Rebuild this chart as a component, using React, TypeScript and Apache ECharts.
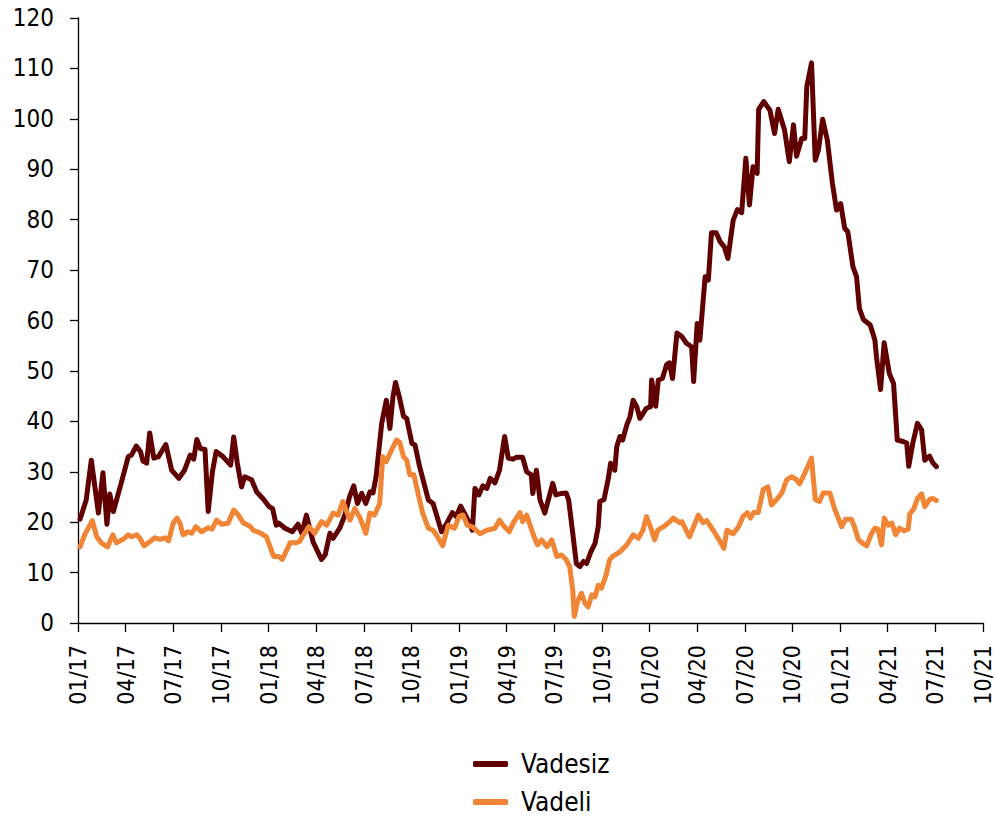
import React, { useEffect, useRef } from "react";
import * as echarts from "echarts";

const xTickStart = 0; // months since 2017-01
const xTickEnd = 57;
const xTickStep = 3;
const yMin = 0;
const yMax = 120;
const yStep = 10;

const seriesNames = ["Vadesiz", "Vadeli"];

const vadesizDates = [
  "2017-01-05","2017-01-17","2017-01-27","2017-02-09","2017-02-17","2017-02-24","2017-03-01","2017-03-08","2017-03-24",
  "2017-04-06","2017-04-12","2017-04-21","2017-04-29","2017-05-04","2017-05-11","2017-05-17","2017-05-25","2017-06-03",
  "2017-06-17","2017-06-28","2017-07-12","2017-07-23","2017-08-03","2017-08-10","2017-08-16","2017-08-23","2017-09-01",
  "2017-09-07","2017-09-15","2017-09-22","2017-10-05","2017-10-20","2017-10-26","2017-11-02","2017-11-10","2017-11-16",
  "2017-11-29","2017-12-09","2017-12-21","2018-01-02","2018-01-09","2018-01-16","2018-01-21","2018-02-02","2018-02-15",
  "2018-02-25","2018-03-04","2018-03-13","2018-03-26","2018-04-11","2018-04-18","2018-04-27","2018-05-03","2018-05-16",
  "2018-05-26","2018-06-04","2018-06-12","2018-06-19","2018-06-27","2018-07-05","2018-07-13","2018-07-19","2018-07-25",
  "2018-08-05","2018-08-14","2018-08-21","2018-08-27","2018-09-01","2018-09-08","2018-09-16","2018-09-22","2018-10-02",
  "2018-10-08","2018-10-17","2018-11-03","2018-11-12","2018-11-28","2018-12-08","2018-12-19","2018-12-27","2019-01-04",
  "2019-01-15","2019-01-27","2019-02-01","2019-02-08","2019-02-15","2019-02-22","2019-02-28","2019-03-09","2019-03-18",
  "2019-03-28","2019-04-04","2019-04-13","2019-04-20","2019-05-01","2019-05-09","2019-05-18","2019-05-21","2019-05-28",
  "2019-06-04","2019-06-13","2019-06-28","2019-07-04","2019-07-15","2019-07-24","2019-07-29","2019-08-06","2019-08-13",
  "2019-08-20","2019-08-27","2019-09-02","2019-09-10","2019-09-18","2019-09-24","2019-09-27","2019-10-05","2019-10-13",
  "2019-10-18","2019-10-26","2019-10-30","2019-11-05","2019-11-10","2019-11-18","2019-11-24","2019-11-30","2019-12-07",
  "2019-12-13","2019-12-26","2020-01-03","2020-01-05","2020-01-13","2020-01-18","2020-01-26","2020-02-03","2020-02-08",
  "2020-02-14","2020-02-22","2020-03-02","2020-03-11","2020-03-21","2020-03-25","2020-04-01","2020-04-06","2020-04-16",
  "2020-04-22","2020-04-28","2020-05-07","2020-05-15","2020-05-23","2020-05-30","2020-06-09","2020-06-17","2020-06-25",
  "2020-07-03","2020-07-10","2020-07-17","2020-07-25","2020-07-28","2020-08-07","2020-08-19","2020-08-28","2020-09-04",
  "2020-09-16","2020-09-25","2020-10-03","2020-10-09","2020-10-19","2020-10-25","2020-10-29","2020-11-07","2020-11-14",
  "2020-11-20","2020-11-28","2020-12-07","2020-12-17","2020-12-25","2021-01-02","2021-01-10","2021-01-16","2021-01-26",
  "2021-02-02","2021-02-07","2021-02-14","2021-02-26","2021-03-01","2021-03-07","2021-03-10","2021-03-18","2021-03-25",
  "2021-04-04","2021-04-12","2021-04-19","2021-04-30","2021-05-07","2021-05-11","2021-05-19","2021-05-28","2021-06-05",
  "2021-06-11","2021-06-20","2021-06-26","2021-07-03"
];
const vadesizValues = [
  20.6, 24.4, 32.3, 21.8, 29.8, 19.6, 25.6, 22.1, 28,
  33, 33.3, 35.1, 34, 32.1, 31.7, 37.7, 32.7, 33,
  35.4, 30.3, 28.7, 30.3, 33.3, 32.5, 36.4, 34.6, 34.4,
  22.1, 30, 34, 33, 31.3, 36.9, 31.7, 27, 29,
  28.4, 26, 24.7, 23.1, 22.7, 19.4, 19.8, 18.8, 18.1,
  19.6, 17.8, 21.4, 16.1, 12.6, 13.5, 17.8, 16.8, 18.8,
  21.4, 25, 27.2, 23.7, 25.7, 23.7, 26, 25.8, 29,
  39.6, 44.2, 38.6, 44.9, 47.7, 44.9, 41, 40.6, 35.6,
  35.3, 31, 24.4, 23.7, 18.1, 19.8, 21.9, 21.1, 23.2,
  21.1, 18.4, 26.7, 25.4, 27.2, 26.7, 28.7, 27.8, 30.3,
  37, 32.7, 32.5, 32.9, 32.9, 30, 29.4, 25.7, 30.3,
  24.4, 21.8, 27.7, 25.4, 25.7, 25.8, 24.4, 17.8, 11.8,
  11.2, 12.2, 11.8, 14.1, 15.8, 19.1, 24.1, 24.5, 28.4,
  31.7, 30.3, 35, 37, 36.3, 39.3, 40.9, 44.2, 42.9,
  40.6, 42.6, 42.9, 48.2, 43, 48.2, 48.5, 51.2, 51.6,
  48.5, 57.5, 56.8, 55.5, 54.8, 47.9, 59.4, 56.1, 68.7,
  68, 77.4, 77.4, 75.6, 74.6, 72.3, 79.9, 82, 81.4,
  92.2, 82.9, 90.5, 89.2, 101.9, 103.4, 101.7, 97.1, 101.9,
  97.8, 91.5, 98.8, 92.6, 96.1, 96.1, 106.4, 111.1, 91.8,
  93.8, 99.9, 95.8, 87.2, 81.9, 83.2, 78.3, 77.6, 70.7,
  68.7, 62.4, 60.2, 59.1, 58.1, 56.1, 52.8, 46.3, 55.6,
  49.5, 47.5, 36.3, 36, 35.7, 31.1, 35.7, 39.6, 38.3,
  32.3, 33.1, 31.8, 31
];

const vadeliDates = [
  "2017-01-05","2017-01-14","2017-01-29","2017-02-06","2017-02-15","2017-02-25","2017-03-07","2017-03-14","2017-03-27",
  "2017-04-06","2017-04-12","2017-04-22","2017-04-28","2017-05-06","2017-05-17","2017-05-27","2017-06-06","2017-06-15",
  "2017-06-22","2017-07-01","2017-07-08","2017-07-14","2017-07-20","2017-07-30","2017-08-06","2017-08-14","2017-08-25",
  "2017-09-07","2017-09-14","2017-09-23","2017-10-03","2017-10-15","2017-10-26","2017-11-04","2017-11-13","2017-11-26",
  "2017-12-02","2017-12-15","2017-12-28","2018-01-04","2018-01-11","2018-01-21","2018-01-28","2018-02-11","2018-02-22",
  "2018-02-28","2018-03-06","2018-03-18","2018-03-29","2018-04-11","2018-04-21","2018-05-03","2018-05-13","2018-05-22",
  "2018-06-05","2018-06-14","2018-06-24","2018-07-05","2018-07-13","2018-07-22","2018-08-01","2018-08-07","2018-08-14",
  "2018-08-24","2018-09-03","2018-09-09","2018-09-16","2018-09-22","2018-09-28","2018-10-06","2018-10-14","2018-10-23",
  "2018-11-03","2018-11-12","2018-11-22","2018-11-30","2018-12-11","2018-12-23","2019-01-01","2019-01-09","2019-01-17",
  "2019-01-28","2019-02-10","2019-02-22","2019-03-09","2019-03-18","2019-03-25","2019-04-06","2019-04-13","2019-04-26",
  "2019-05-01","2019-05-09","2019-05-21","2019-05-30","2019-06-07","2019-06-17","2019-06-26","2019-07-06","2019-07-15",
  "2019-07-24","2019-07-31","2019-08-06","2019-08-09","2019-08-15","2019-08-23","2019-08-30","2019-09-05","2019-09-12",
  "2019-09-18","2019-09-24","2019-09-30","2019-10-09","2019-10-16","2019-10-22","2019-11-05","2019-11-18","2019-11-30",
  "2019-12-10","2019-12-19","2019-12-26","2020-01-05","2020-01-11","2020-01-17","2020-01-30","2020-02-09","2020-02-15",
  "2020-02-27","2020-03-02","2020-03-17","2020-04-03","2020-04-12","2020-04-19","2020-05-03","2020-05-11","2020-05-22",
  "2020-05-28","2020-06-09","2020-06-19","2020-06-28","2020-07-06","2020-07-12","2020-07-18","2020-07-27","2020-08-06",
  "2020-08-15","2020-08-22","2020-09-01","2020-09-11","2020-09-20","2020-09-29","2020-10-08","2020-10-15","2020-10-25",
  "2020-11-07","2020-11-14","2020-11-22","2020-11-29","2020-12-12","2020-12-21","2021-01-04","2021-01-12","2021-01-23",
  "2021-01-29","2021-02-05","2021-02-14","2021-02-20","2021-02-28","2021-03-07","2021-03-13","2021-03-20","2021-03-25",
  "2021-04-02","2021-04-09","2021-04-16","2021-04-23","2021-05-02","2021-05-10","2021-05-13","2021-05-21","2021-05-28",
  "2021-06-05","2021-06-11","2021-06-20","2021-06-26","2021-07-03"
];
const vadeliValues = [
  15.1, 17.5, 20.3, 17.1, 15.8, 15.1, 17.5, 15.9, 16.6,
  17.5, 17.1, 17.5, 16.8, 15.3, 16.1, 16.9, 16.6, 16.9,
  16.3, 19.8, 20.8, 19.8, 17.5, 18.1, 17.8, 19.1, 18.1,
  18.9, 18.6, 20.4, 19.6, 19.8, 22.4, 21.4, 19.9, 19.2,
  18.4, 17.9, 17.1, 15.1, 13.2, 13.2, 12.6, 15.9, 15.9,
  16.2, 17.3, 19.1, 17.8, 20.1, 19.4, 21.8, 21.4, 24.1,
  20.4, 22.7, 20.8, 17.8, 21.8, 21.4, 23.7, 33, 32,
  34.3, 36.3, 35.8, 33, 32.3, 29.4, 29.4, 25.7, 21.8,
  18.8, 18.4, 16.8, 15.3, 19.4, 18.8, 21.1, 21.4, 19.4,
  19, 17.7, 18.4, 18.8, 20.4, 19.4, 18.1, 19.8, 21.9,
  20.1, 21.4, 17.8, 15.5, 16.5, 15.1, 16.5, 13.2, 13.5,
  12.6, 11.2, 6.5, 1.3, 4.2, 5.9, 3.9, 3.2, 5.6,
  5.2, 7.5, 6.9, 9.5, 12.5, 13.2, 14.1, 15.5, 17.5,
  16.8, 18.4, 21.1, 18.4, 16.5, 18.4, 19.2, 20.1, 20.8,
  19.9, 20.1, 17.1, 21.4, 19.9, 20.3, 18.1, 16.8, 14.8,
  18.4, 17.7, 19.1, 21.2, 21.9, 20.8, 21.9, 21.9, 26.5,
  27, 23.4, 24.5, 25.8, 28.4, 29, 28.5, 27.6, 29.7,
  32.7, 24.5, 24.1, 25.8, 25.8, 22.7, 19.1, 20.6, 20.6,
  19.1, 16.6, 15.7, 15.3, 17.7, 18.8, 18.6, 15.5, 20.8,
  19.4, 19.8, 17.5, 18.8, 18.3, 18.6, 21.6, 22.7, 24.7,
  25.6, 23.1, 24.5, 24.7, 24.3
];

function monthIndex(date: string): number {
  const [y, m, d] = date.split("-").map(Number);
  const dim = new Date(Date.UTC(y, m, 0)).getUTCDate();
  return (y - 2017) * 12 + (m - 1) + (d - 1) / dim;
}

function toSeries(dates: string[], values: number[]) {
  return dates.map((d, i) => [monthIndex(d), values[i]]);
}

function fmtMonth(v: number): string {
  const mm = (Math.round(v) % 12) + 1;
  const yy = 17 + Math.floor(Math.round(v) / 12);
  return (mm < 10 ? "0" + mm : "" + mm) + "/" + yy;
}

const FONT = "'DejaVu Sans Condensed', Roboto, sans-serif";

function legendFor(name: string, top: number) {
  return {
    orient: "horizontal",
    left: 468,
    top,
    itemWidth: 35,
    itemHeight: 6,
    icon: "roundRect",
    textStyle: { fontFamily: FONT, fontSize: 26, lineHeight: 28, color: "#000", padding: [0, 0, 0, 8] },
    data: [name],
  };
}

export default function App() {
  const ref = useRef<HTMLDivElement>(null);
  useEffect(() => {
    if (!ref.current) return;
    const chart = echarts.init(ref.current, undefined, { renderer: "svg" });
    chart.setOption({
      animation: false,
      backgroundColor: "#ffffff",
      grid: { left: 78, right: 12, top: 18, bottom: 193, containLabel: false },
      legend: [legendFor(seriesNames[0], 745), legendFor(seriesNames[1], 783)],
      xAxis: {
        type: "value",
        min: xTickStart,
        max: xTickEnd,
        interval: xTickStep,
        splitLine: { show: false },
        axisLine: { lineStyle: { color: "#000", width: 1.3 } },
        axisTick: { show: true, length: 9, lineStyle: { color: "#000", width: 1.3 } },
        axisLabel: {
          rotate: 90,
          margin: 22,
          fontFamily: FONT,
          fontSize: 23,
          color: "#000",
          formatter: (v: number) => fmtMonth(v),
        },
      },
      yAxis: {
        type: "value",
        min: yMin,
        max: yMax,
        interval: yStep,
        splitLine: { show: false },
        axisLine: { show: true, lineStyle: { color: "#000", width: 1.3 } },
        axisTick: { show: true, length: 8, lineStyle: { color: "#000", width: 1.3 } },
        axisLabel: { fontFamily: FONT, fontSize: 24, color: "#000", margin: 24 },
      },
      series: [
        {
          name: seriesNames[0],
          type: "line",
          data: toSeries(vadesizDates, vadesizValues),
          showSymbol: false,
          color: "#600000",
          lineStyle: { width: 5, color: "#600000", join: "round", cap: "round" },
        },
        {
          name: seriesNames[1],
          type: "line",
          data: toSeries(vadeliDates, vadeliValues),
          showSymbol: false,
          color: "#F08536",
          lineStyle: { width: 5, color: "#F08536", join: "round", cap: "round" },
        },
      ],
    });
    return () => chart.dispose();
  }, []);
  return (
    <div
      ref={ref}
      style={{ position: "absolute", left: 0, top: 0, width: 995, height: 816 }}
    />
  );
}
